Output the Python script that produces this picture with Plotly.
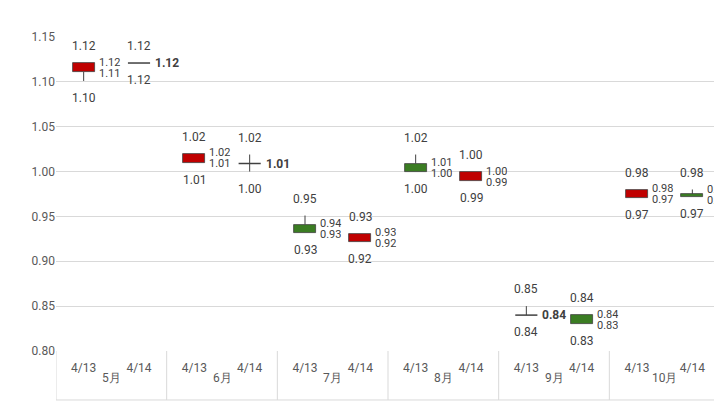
import plotly.graph_objects as go

months = ["5月", "6月", "7月", "8月", "9月", "10月"]
dates = ["4/13", "4/14"] * 6

opens = [1.121, 1.121, 1.020, 1.009, 0.931, 0.930, 0.999, 0.999, 0.840, 0.830, 0.980, 0.972]
closes = [1.111, 1.121, 1.010, 1.009, 0.941, 0.921, 1.009, 0.989, 0.840, 0.840, 0.970, 0.975]
highs = [1.121, 1.121, 1.020, 1.019, 0.951, 0.930, 1.019, 0.999, 0.850, 0.840, 0.980, 0.980]
lows = [1.101, 1.121, 1.010, 1.000, 0.931, 0.921, 0.999, 0.989, 0.840, 0.830, 0.970, 0.972]

top_lbl = ["1.12", "1.12", "1.02", "1.02", "0.95", "0.93", "1.02", "1.00", "0.85", "0.84", "0.98", "0.98"]
bot_lbl = ["1.10", "1.12", "1.01", "1.00", "0.93", "0.92", "1.00", "0.99", "0.84", "0.83", "0.97", "0.97"]
right_hi = ["1.12", "1.12", "1.02", "1.01", "0.94", "0.93", "1.01", "1.00", "0.84", "0.84", "0.98", "0.98"]
right_lo = ["1.11", None, "1.01", None, "0.93", "0.92", "1.00", "0.99", None, "0.83", "0.97", "0.97"]

RED = "#c00000"
GREEN = "#3b7d23"
TXT = "#404040"
GRID = "#d9d9d9"
HALF = 0.2
PX = 314 / 0.35  # pixels per unit on y

x = list(range(len(opens)))
fig = go.Figure()

# wicks, only outside the bodies
wx, wy = [], []
for i in x:
    hi, lo = max(opens[i], closes[i]), min(opens[i], closes[i])
    if lows[i] < lo:
        wx += [i, i, None]
        wy += [lows[i], lo, None]
    if highs[i] > hi:
        wx += [i, i, None]
        wy += [hi, highs[i], None]
fig.add_trace(go.Scatter(x=wx, y=wy, mode="lines", line=dict(color="#404040", width=1),
                         hoverinfo="skip", showlegend=False))

# bodies
bx, bbase, bh, bcol = [], [], [], []
dx, dy = [], []
for i in x:
    if opens[i] == closes[i]:
        dx += [i - HALF, i + HALF, None]
        dy += [opens[i], closes[i], None]
    else:
        bx.append(i)
        bbase.append(min(opens[i], closes[i]))
        bh.append(abs(opens[i] - closes[i]))
        bcol.append(RED if opens[i] > closes[i] else GREEN)
fig.add_trace(go.Bar(x=bx, y=bh, base=bbase, width=2 * HALF,
                     marker=dict(color=bcol, line=dict(color="#404040", width=0.8)),
                     showlegend=False))
fig.add_trace(go.Scatter(x=dx, y=dy, mode="lines", line=dict(color="#404040", width=1.5),
                         hoverinfo="skip", showlegend=False))

font = dict(family="Roboto, Arial, sans-serif", size=12, color=TXT)
sfont = dict(family="Roboto, Arial, sans-serif", size=11, color=TXT)
for i in x:
    top = max(highs[i], opens[i], closes[i])
    fig.add_annotation(x=i, y=top, text=top_lbl[i], showarrow=False, yshift=17, font=font)
    fig.add_annotation(x=i, y=lows[i], text=bot_lbl[i], showarrow=False, yshift=-17, font=font)
    hi, lo = max(opens[i], closes[i]), min(opens[i], closes[i])
    if right_lo[i] is None:
        fig.add_annotation(x=i + HALF, y=hi, text="<b>" + right_hi[i] + "</b>", showarrow=False,
                           xanchor="left", xshift=3, font=font)
    else:
        gap = max(0, (9 - (hi - lo) * PX) / 2)
        fig.add_annotation(x=i + HALF, y=hi, text=right_hi[i], showarrow=False, xanchor="left",
                           xshift=2, yshift=gap + 1, font=sfont, height=11)
        fig.add_annotation(x=i + HALF, y=lo, text=right_lo[i], showarrow=False, xanchor="left",
                           xshift=2, yshift=-gap - 1, font=sfont, height=11)

# category axis labels and dividers
axis_font = dict(family="Roboto, Arial, sans-serif", size=12, color="#595959")
for k, m in enumerate(months):
    fig.add_annotation(x=2 * k + 0.5, y=-0.115, yref="paper", text=m, showarrow=False, font=axis_font)
for k in range(len(months) + 1):
    fig.add_shape(type="line", x0=2 * k - 0.5, x1=2 * k - 0.5, y0=0, y1=-0.156, yref="paper",
                  line=dict(color=GRID, width=1))
fig.add_shape(type="line", x0=-0.5, x1=11.5, y0=-0.156, y1=-0.156, yref="paper", line=dict(color=GRID, width=1))
fig.add_shape(type="line", x0=11.5, x1=11.5, y0=0, y1=1.05, yref="paper", line=dict(color=GRID, width=1))

fig.update_layout(
    width=722, height=402,
    margin=dict(l=48, r=10, t=29, b=59),
    plot_bgcolor="white", paper_bgcolor="white",
    bargap=0,
    xaxis=dict(range=[-0.5, 11.5], tickmode="array", tickvals=x, ticktext=dates,
               showgrid=False, zeroline=False, tickfont=axis_font,
               ticks="outside", ticklen=6, tickcolor="white"),
    yaxis=dict(range=[0.8, 1.15], dtick=0.05, tickformat=".2f", gridcolor=GRID,
               zeroline=False, tickfont=axis_font),
)

fig.write_html("out.html")
